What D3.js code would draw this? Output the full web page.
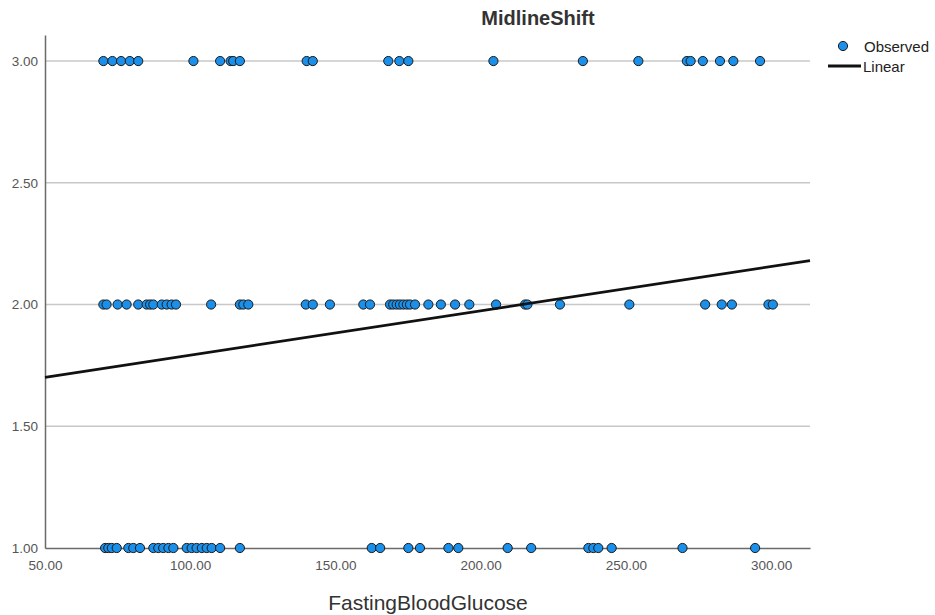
<!DOCTYPE html>
<html>
<head>
<meta charset="utf-8">
<script src="https://cdn.jsdelivr.net/npm/d3@7"></script>
<style>
  html, body { margin: 0; padding: 0; background: #fff; }
  svg { display: block; font-family: "Liberation Sans", Arial, sans-serif; }
</style>
</head>
<body>
<svg id="chart" width="935" height="615"></svg>
<script>
// Observed FastingBloodGlucose values, grouped by MidlineShift level
const glucoseShift3 = [70.1, 73.2, 76.2, 79.2, 82.1, 101.1, 110.3, 113.9, 114.8, 117.1,
  140.1, 142.2, 168.2, 172.0, 175.1, 204.4, 235.2, 254.3, 271.0, 272.3, 276.5, 282.4, 287.0, 296.2];
const glucoseShift2 = [70.1, 71.2, 75.0, 78.1, 82.1, 85.0, 86.2, 87.3, 90.2, 91.9, 93.6, 95.1,
  107.2, 117.1, 118.3, 120.0, 139.8, 142.2, 148.1, 159.6, 161.9, 168.8, 169.9, 171.1, 172.2,
  173.4, 174.6, 175.7, 177.4, 182.0, 186.3, 191.2, 196.1, 205.3, 215.3, 216.1, 227.3, 251.2,
  277.3, 283.0, 286.5, 299.1, 300.6];
const glucoseShift1 = [70.7, 71.8, 73.0, 74.7, 78.7, 80.4, 82.7, 87.3, 89.0, 90.7, 92.5, 94.2,
  98.8, 100.5, 102.2, 104.0, 105.7, 107.4, 110.3, 117.1, 162.5, 165.4, 175.1, 179.1, 188.9,
  192.3, 209.3, 217.4, 237.1, 238.8, 240.5, 245.1, 269.5, 294.5];
const shiftLevels = [3, 2, 1];

// Linear fit: MidlineShift = intercept + slope * FastingBloodGlucose
const fitIntercept = 1.61;
const fitSlope = 0.00182;

const xTicks = [50, 100, 150, 200, 250, 300];
const yTicks = [1.0, 1.5, 2.0, 2.5, 3.0];
const xDomain = [50, 313.4];
const yDomain = [1, 3.107];

const titleText = "MidlineShift";
const xLabelText = "FastingBloodGlucose";
const legendLabels = ["Observed", "Linear"];

const observations = [];
[glucoseShift3, glucoseShift2, glucoseShift1].forEach((arr, i) => {
  arr.forEach(g => observations.push({ x: g, y: shiftLevels[i] }));
});

const svg = d3.select("#chart");
const plot = { left: 45, right: 810, top: 35, bottom: 548 };
const pointFill = "#1a90ea";

const x = d3.scaleLinear().domain(xDomain).range([plot.left, plot.right]);
const y = d3.scaleLinear().domain(yDomain).range([plot.bottom, plot.top]);

// Horizontal gridlines
svg.append("g")
  .selectAll("line")
  .data(yTicks.filter(d => d > yDomain[0]))
  .join("line")
  .attr("x1", plot.left).attr("x2", plot.right)
  .attr("y1", d => y(d)).attr("y2", d => y(d))
  .attr("stroke", "#c8c8c8").attr("stroke-width", 1.5);

// Axes
const yAxis = svg.append("g")
  .attr("transform", `translate(${plot.left},0)`)
  .call(d3.axisLeft(y).tickValues(yTicks).tickFormat(d3.format(".2f")).tickSize(0).tickPadding(7));
yAxis.select(".domain").attr("stroke", "#6a6a6a").attr("stroke-width", 1.5);
yAxis.selectAll("text").attr("font-size", 13.5).attr("fill", "#555");

const xAxis = svg.append("g")
  .attr("transform", `translate(0,${plot.bottom})`)
  .call(d3.axisBottom(x).tickValues(xTicks).tickFormat(d3.format(".2f")).tickSize(0).tickPadding(12));
xAxis.select(".domain").attr("stroke", "#6a6a6a").attr("stroke-width", 1.5);
xAxis.selectAll("text").attr("font-size", 13.5).attr("fill", "#555");

// Observed points
svg.append("g")
  .selectAll("circle")
  .data(observations)
  .join("circle")
  .attr("cx", d => x(d.x))
  .attr("cy", d => y(d.y))
  .attr("r", 4.6)
  .attr("fill", pointFill)
  .attr("stroke", "#1a1a1a")
  .attr("stroke-width", 1);

// Fitted line
const fitLine = d3.line().x(d => x(d)).y(d => y(fitIntercept + fitSlope * d));
svg.append("path")
  .datum(xDomain)
  .attr("d", fitLine)
  .attr("fill", "none")
  .attr("stroke", "#111")
  .attr("stroke-width", 2.8);

// Title and axis label
svg.append("text")
  .attr("x", 538).attr("y", 25)
  .attr("text-anchor", "middle")
  .attr("font-size", 20).attr("font-weight", "bold").attr("fill", "#333")
  .text(titleText);

svg.append("text")
  .attr("x", 428).attr("y", 610)
  .attr("text-anchor", "middle")
  .attr("font-size", 21).attr("fill", "#333")
  .text(xLabelText);

// Legend
const legend = svg.append("g");
legend.append("circle")
  .attr("cx", 843).attr("cy", 46).attr("r", 4.6)
  .attr("fill", pointFill).attr("stroke", "#1a1a1a").attr("stroke-width", 1);
legend.append("text")
  .attr("x", 864).attr("y", 51.5)
  .attr("font-size", 15).attr("fill", "#222")
  .text(legendLabels[0]);
legend.append("line")
  .attr("x1", 828).attr("x2", 861).attr("y1", 66).attr("y2", 66)
  .attr("stroke", "#111").attr("stroke-width", 2.8);
legend.append("text")
  .attr("x", 863).attr("y", 72)
  .attr("font-size", 15).attr("fill", "#222")
  .text(legendLabels[1]);
</script>
</body>
</html>
